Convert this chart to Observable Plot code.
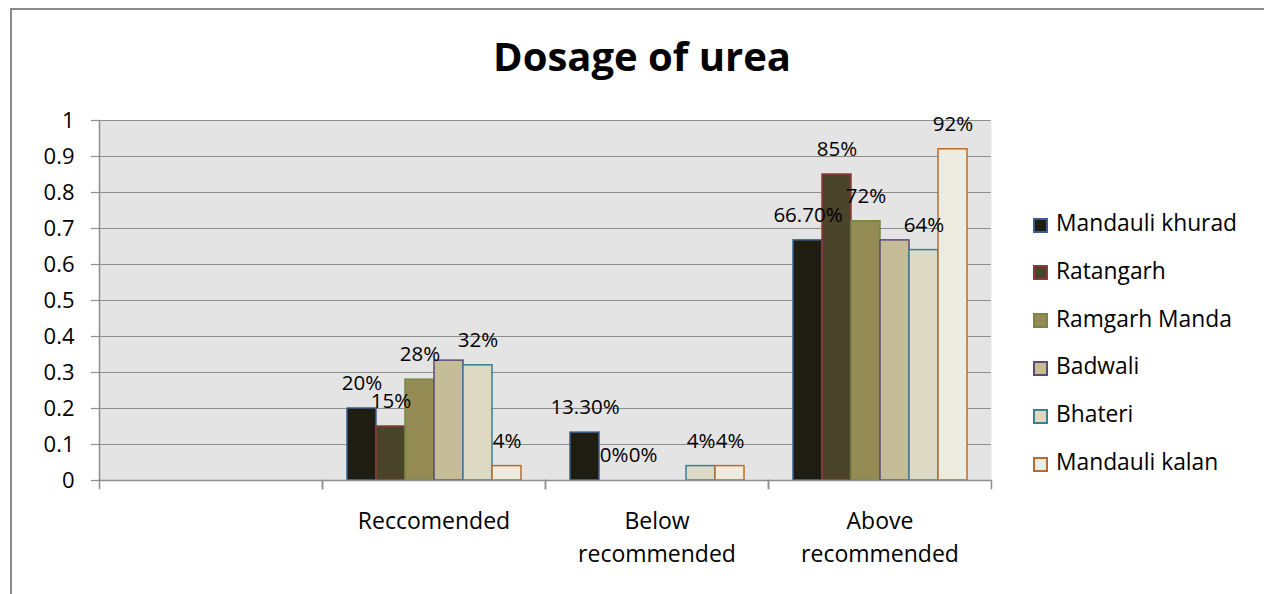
<!DOCTYPE html>
<html><head><meta charset="utf-8">
<script src="https://cdn.jsdelivr.net/npm/d3@7"></script>
<script src="https://cdn.jsdelivr.net/npm/@observablehq/plot@0.6"></script>
<style>
body{margin:0;background:#fff;width:1264px;height:594px;overflow:hidden;position:relative;font-family:"Open Sans",sans-serif;color:#000;}
#border{position:absolute;left:10px;top:8px;width:1400px;height:800px;border-left:2px solid #8a8a8a;border-top:2px solid #8a8a8a;}
#title{position:absolute;left:0;width:1284px;top:36px;text-align:center;font-weight:bold;font-size:40px;line-height:1;}
#chart{position:absolute;left:0;top:100px;}
#legend{position:absolute;left:1033px;top:0;}
.row{position:absolute;left:0;white-space:nowrap;font-size:22.8px;line-height:1;}
.sw{position:absolute;left:0;width:11px;height:11px;border:2px solid;}
.lt{position:absolute;left:23px;}
</style></head>
<body>
<div id="border"></div>
<div id="title">Dosage of urea</div>
<div id="chart"></div>
<div id="legend"></div>
<script>
const categories = [" ", "Reccomended", "Below recommended", "Above recommended"];
const categoryLabels = ["", "Reccomended", "Below\nrecommended", "Above\nrecommended"];
const series = ["Mandauli khurad", "Ratangarh", "Ramgarh Manda", "Badwali", "Bhateri", "Mandauli kalan"];
const mandauliKhurad = [null, 0.20, 0.133, 0.667];
const ratangarh = [null, 0.15, 0, 0.85];
const ramgarhManda = [null, 0.28, 0, 0.72];
const badwali = [null, 0.333, 0, 0.667];
const bhateri = [null, 0.32, 0.04, 0.64];
const mandauliKalan = [null, 0.04, 0.04, 0.92];
const mandauliKhuradLabels = ["", "20%", "13.30%", "66.70%"];
const ratangarhLabels = ["", "15%", "0%", "85%"];
const ramgarhMandaLabels = ["", "28%", "0%", "72%"];
const badwaliLabels = ["", "", "", ""];
const bhateriLabels = ["", "32%", "4%", "64%"];
const mandauliKalanLabels = ["", "4%", "4%", "92%"];
const fills = ["#1f1d12", "#4a442b", "#948a54", "#c4bd97", "#ddd9c3", "#eeece1"];
const strokes = ["#3a5f8c", "#8e3a37", "#72893f", "#5e4a7a", "#36809a", "#b76c2f"];
const yTicks = [0, 0.1, 0.2, 0.3, 0.4, 0.5, 0.6, 0.7, 0.8, 0.9, 1];
const yTickLabels = ["0", "0.1", "0.2", "0.3", "0.4", "0.5", "0.6", "0.7", "0.8", "0.9", "1"];

const seriesValues = [mandauliKhurad, ratangarh, ramgarhManda, badwali, bhateri, mandauliKalan];
const seriesLabels = [mandauliKhuradLabels, ratangarhLabels, ramgarhMandaLabels, badwaliLabels, bhateriLabels, mandauliKalanLabels];
const rows = [];
categories.forEach((c, ci) => series.forEach((s, si) => rows.push({category: c, series: s, value: seriesValues[si][ci], label: seriesLabels[si][ci]})));

const W = 1264, H = 490, mL = 98, mR = 273, mT = 20, mB = 110;
const plotH = H - mT - mB;
const grid = "#8e8e8e";
const fontFam = "'Open Sans', sans-serif";

const chart = Plot.plot({
  width: W, height: H,
  marginLeft: mL, marginRight: mR, marginTop: mT, marginBottom: mB,
  style: {fontFamily: fontFam, background: "transparent", color: "#000"},
  fx: {domain: categories, padding: 0},
  x: {domain: series, paddingInner: 0, paddingOuter: 0.74, axis: null},
  y: {domain: [0, 1], axis: null},
  color: {domain: series, range: fills},
  marks: [
    Plot.frame({fill: "#e4e4e4", stroke: "none", facet: "super"}),
    Plot.gridY(yTicks, {stroke: grid, strokeOpacity: 1, strokeWidth: 1.2}),
    Plot.barY(rows, {fx: "category", x: "series", y: "value", fill: "series",
      stroke: (d) => strokes[series.indexOf(d.series)], strokeWidth: 1.5, inset: 0,
      filter: (d) => d.value > 0}),
    Plot.text(rows, {fx: "category", x: "series", y: "value", text: "label", dy: -25,
      fontSize: 20.5, fill: "#000", textAnchor: "middle", filter: (d) => d.value != null}),
    Plot.frame({anchor: "left", facet: "super", stroke: grid, strokeWidth: 1.5}),
    Plot.ruleY([0], {stroke: grid, strokeWidth: 1.5}),
    Plot.frame({anchor: "left", stroke: grid, strokeWidth: 1.5, insetTop: plotH, insetBottom: -8}),
    Plot.frame({anchor: "right", stroke: grid, strokeWidth: 1.5, insetTop: plotH, insetBottom: -8}),
    Plot.axisY({ticks: yTicks, tickFormat: (d) => yTickLabels[yTicks.indexOf(d)], tickSize: 8, tickPadding: 17,
      stroke: grid, strokeWidth: 1.2, fontSize: 22, label: null, fill: "#000", strokeOpacity: 1}),
    Plot.axisFx({anchor: "bottom", tickSize: 0, tickPadding: 26, fontSize: 23, lineHeight: 1.4, label: null,
      tickFormat: (d) => categoryLabels[categories.indexOf(d)], fill: "#000"})
  ]
});
document.getElementById("chart").appendChild(chart);

const legend = document.getElementById("legend");
series.forEach((s, i) => {
  const cy = 225 + 47.8 * i;
  const row = document.createElement("div");
  row.className = "row";
  row.style.top = (cy - 12) + "px";
  const sw = document.createElement("div");
  sw.className = "sw";
  sw.style.background = fills[i];
  sw.style.borderColor = strokes[i];
  sw.style.top = "4.5px";
  const t = document.createElement("div");
  t.className = "lt";
  t.textContent = s;
  t.style.top = "-1px";
  row.appendChild(sw); row.appendChild(t);
  legend.appendChild(row);
});
</script>
</body></html>
